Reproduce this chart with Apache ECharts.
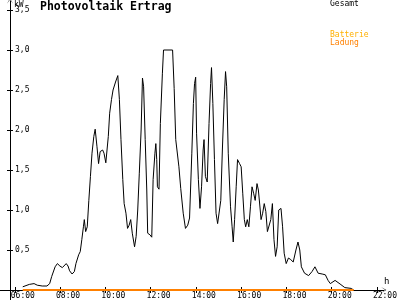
<!DOCTYPE html>
<html><head><meta charset="utf-8">
<script src="https://cdn.jsdelivr.net/npm/echarts@6/dist/echarts.min.js"></script>
<style>html,body{margin:0;padding:0;background:#fff}#c{width:400px;height:300px}</style>
</head><body><div id="c"></div>
<script>
// time of day in decimal hours
const times = [6.35,6.64,6.85,6.99,7.07,7.21,7.42,7.54,7.63,7.78,7.88,7.99,8.10,8.27,8.35,8.42,8.53,8.63,8.70,8.82,8.89,8.96,9.03,9.07,9.13,9.20,9.27,9.34,9.41,9.49,9.55,9.63,9.70,9.77,9.88,9.94,10.02,10.13,10.19,10.27,10.34,10.45,10.55,10.62,10.69,10.77,10.83,10.91,10.98,11.05,11.12,11.19,11.29,11.36,11.43,11.50,11.58,11.64,11.69,11.76,11.83,11.87,11.97,12.05,12.11,12.19,12.23,12.27,12.30,12.37,12.43,12.52,12.57,12.97,13.04,13.11,13.25,13.33,13.44,13.54,13.64,13.72,13.82,13.89,13.94,13.99,14.03,14.11,14.18,14.25,14.32,14.36,14.42,14.50,14.58,14.65,14.69,14.75,14.82,14.89,14.96,15.03,15.10,15.17,15.25,15.31,15.36,15.43,15.53,15.60,15.65,15.71,15.78,15.84,15.93,16.00,16.07,16.14,16.20,16.27,16.34,16.41,16.48,16.55,16.62,16.70,16.76,16.81,16.88,16.95,17.02,17.09,17.16,17.23,17.31,17.38,17.45,17.52,17.59,17.66,17.76,17.83,17.90,17.99,18.09,18.19,18.30,18.42,18.51,18.59,18.66,18.80,18.98,19.13,19.26,19.40,19.58,19.72,19.84,19.94,20.15,20.37,20.58,20.86,20.97];
const gesamt = [0.04,0.07,0.08,0.06,0.08,0.05,0.05,0.08,0.17,0.29,0.33,0.30,0.28,0.33,0.30,0.24,0.20,0.23,0.33,0.44,0.48,0.63,0.79,0.88,0.73,0.79,1.12,1.42,1.71,1.92,2.01,1.79,1.58,1.73,1.75,1.71,1.59,1.92,2.21,2.38,2.50,2.60,2.68,2.38,1.88,1.38,1.08,0.96,0.77,0.81,0.88,0.71,0.54,0.67,1.00,1.46,2.00,2.65,2.54,1.88,1.25,0.71,0.69,0.66,1.38,1.71,1.83,1.63,1.29,1.26,2.08,2.71,3.00,3.00,2.52,1.88,1.54,1.27,0.96,0.77,0.81,0.90,1.71,2.33,2.58,2.66,1.96,1.38,1.02,1.29,1.75,1.88,1.42,1.35,2.08,2.58,2.78,2.33,1.63,0.96,0.83,0.83,1.12,1.75,2.38,2.73,2.54,1.71,1.04,0.79,0.60,0.88,1.29,1.63,1.58,1.54,1.21,0.88,0.79,0.88,0.79,1.04,1.29,1.21,1.12,1.33,1.25,1.10,0.88,0.96,1.08,0.98,0.73,0.71,0.88,1.08,0.63,0.42,0.54,1.00,1.02,0.79,0.46,0.33,0.40,0.38,0.35,0.50,0.60,0.50,0.29,0.21,0.18,0.23,0.29,0.21,0.20,0.19,0.12,0.08,0.12,0.075,0.03,0.02,0.00];
const ladungTimes = [6.35, 20.97];
const ladung = [0, 0];
const batterie = [];
const xTicks = [6,8,10,12,14,16,18,20,22];
const yTicks = [0.5,1,1.5,2,2.5,3,3.5];

const MONO = '"DejaVu Sans Mono", monospace';
const pad2 = n => (n < 10 ? '0' : '') + n;
const chart = echarts.init(document.getElementById('c'), null, {renderer: 'canvas'});
const xMin = 5.7867, xMax = 22.299, yMax = 3.6125;
const arrowPath = 'path://M0,7 L4,0 L8,7 L4,1.5 Z';
chart.setOption({
  animation: false,
  backgroundColor: '#fff',
  title: {
    text: 'Photovoltaik Ertrag', left: 40, top: 1, padding: 0,
    textStyle: {fontFamily: MONO, fontWeight: 'bold', fontSize: 11.5, color: '#000'}
  },
  legend: [
    {data: [{name: 'Gesamt', textStyle: {color: '#000'}}], left: 325, top: 0, padding: 0,
     icon: 'none', itemWidth: 0, itemHeight: 8, selectedMode: false,
     textStyle: {fontFamily: MONO, fontSize: 8}},
    {data: [{name: 'Batterie', textStyle: {color: '#ffb000'}}, {name: 'Ladung', textStyle: {color: '#ff8000'}}],
     left: 325, top: 31, padding: 0, orient: 'vertical', itemGap: 0,
     icon: 'none', itemWidth: 0, itemHeight: 8, selectedMode: false,
     textStyle: {fontFamily: MONO, fontSize: 8}}
  ],
  grid: {left: 10, right: 3, top: 1, bottom: 10},
  xAxis: [{
    type: 'value', min: xMin, max: xMax,
    axisLine: {show: true, lineStyle: {color: '#000', width: 1}, symbol: ['none', arrowPath], symbolSize: [6, 8]},
    axisTick: {show: true, length: 3, lineStyle: {color: '#000'}, customValues: xTicks},
    axisLabel: {
      customValues: xTicks, margin: 2, color: '#000', fontFamily: MONO, fontSize: 8,
      formatter: v => '{a|' + pad2(Math.round(v)) + ':00}',
      rich: {a: {padding: [0, 0, 0, 16], fontFamily: MONO, fontSize: 8, color: '#000'}}
    },
    splitLine: {show: false}
  }, {
    type: 'value', min: xMin, max: xMax, position: 'bottom',
    axisLine: {show: false},
    axisTick: {show: true, inside: true, length: 3, lineStyle: {color: '#000'}, customValues: xTicks},
    axisLabel: {show: false}, splitLine: {show: false}
  }],
  yAxis: [{
    type: 'value', min: 0, max: yMax,
    axisLine: {show: true, lineStyle: {color: '#000', width: 1}, symbol: ['none', arrowPath], symbolSize: [6, 8]},
    axisTick: {show: true, length: 3, lineStyle: {color: '#000'}, customValues: yTicks},
    axisLabel: {
      customValues: yTicks, inside: true, margin: 5, color: '#000', fontFamily: MONO, fontSize: 8,
      formatter: v => v.toFixed(1).replace('.', ',')
    },
    splitLine: {show: false}
  }, {
    type: 'value', min: 0, max: yMax, position: 'left',
    axisLine: {show: false},
    axisTick: {show: true, inside: true, length: 3, lineStyle: {color: '#000'}, customValues: yTicks},
    axisLabel: {show: false}, splitLine: {show: false}
  }],
  graphic: [
    {type: 'line', shape: {x1: 0, y1: 290.5, x2: 10, y2: 290.5}, style: {stroke: '#000', lineWidth: 1}},
    {type: 'line', shape: {x1: 10.5, y1: 290, x2: 10.5, y2: 300}, style: {stroke: '#000', lineWidth: 1}},
    {type: 'text', left: 14, top: 1, style: {text: 'kW', fontFamily: MONO, fontSize: 8, fill: '#000'}},
    {type: 'text', left: 384, top: 277, style: {text: 'h', fontFamily: MONO, fontSize: 9, fill: '#000'}}
  ],
  series: [
    {name: 'Gesamt', type: 'line', data: times.map((t, i) => [t, gesamt[i]]),
     showSymbol: false, symbol: 'none', lineStyle: {color: '#000', width: 1}, itemStyle: {color: '#000'}, z: 3},
    {name: 'Batterie', type: 'line', data: batterie, showSymbol: false, symbol: 'none',
     lineStyle: {color: '#ffb000', width: 1}, itemStyle: {color: '#ffb000'}},
    {name: 'Ladung', type: 'line', data: ladungTimes.map((t, i) => [t, ladung[i]]), clip: false,
     showSymbol: false, symbol: 'none', lineStyle: {color: '#ff8000', width: 2}, itemStyle: {color: '#ff8000'}, z: 4}
  ]
});
</script>
</body></html>
